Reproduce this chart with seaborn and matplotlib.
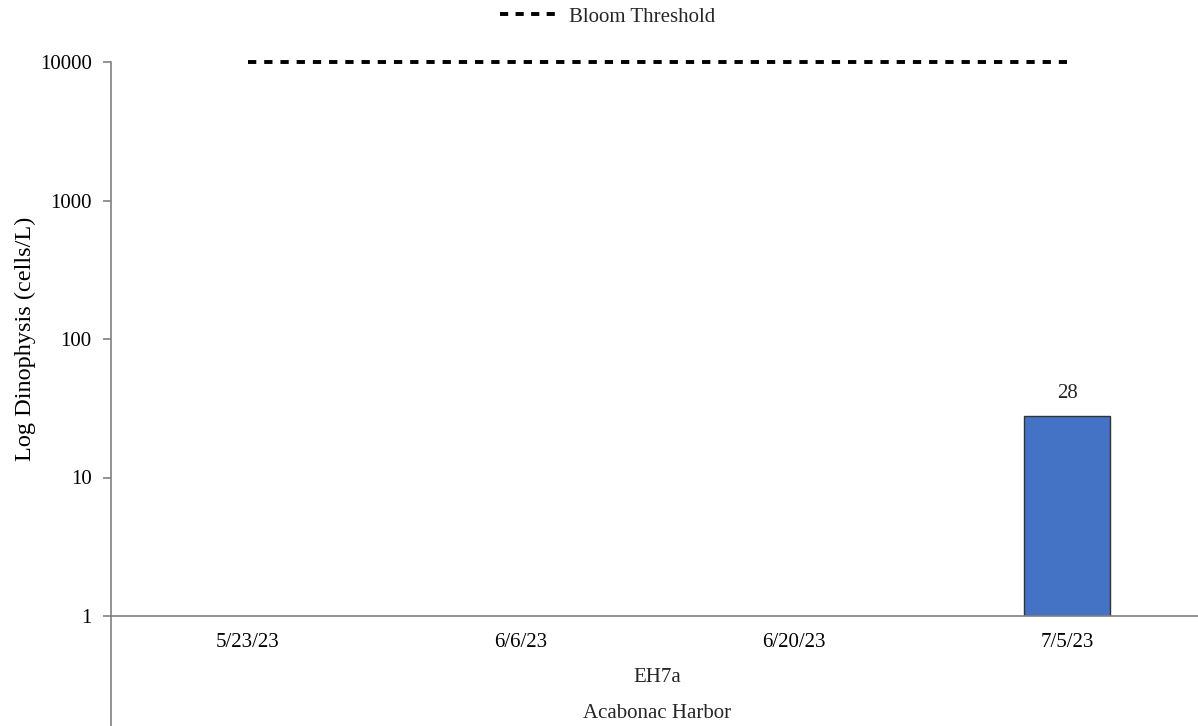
import matplotlib
matplotlib.use("Agg")
import matplotlib.pyplot as plt
import matplotlib.transforms as mtransforms
import seaborn as sns
import pandas as pd
from matplotlib.lines import Line2D

# Sampling dates and Dinophysis counts (cells/L) at station EH7a
dates = ["5/23/23", "6/6/23", "6/20/23", "7/5/23"]
counts = [0, 0, 0, 28]
threshold = [10000, 10000, 10000, 10000]
station = "EH7a"
site = "Acabonac Harbor"

sns.set_theme(style="white")
plt.rcParams["font.family"] = ["Liberation Serif", "DejaVu Serif"]

df = pd.DataFrame({"date": dates, "count": counts, "threshold": threshold})

W, H = 1198, 726
fig = plt.figure(figsize=(W / 100, H / 100), dpi=100)
ax_left, ax_right = 111, 1204
ax = fig.add_axes([ax_left / W, 110 / H, (ax_right - ax_left) / W, 554 / H])

sns.barplot(data=df, x="date", y="count", color="#4472C4", width=0.315,
            edgecolor="#333333", linewidth=1.0, saturation=1, errorbar=None,
            ax=ax)
n_before = len(ax.lines)
sns.lineplot(data=df, x="date", y="threshold", color="black", ax=ax,
             sort=False, errorbar=None)
for ln in ax.lines[n_before:]:
    ln.set_linewidth(2.8)
    ln.set_dashes((2.13, 2.04))
    ln.set_clip_on(False)

ax.set_yscale("log")
ax.set_ylim(1, 10000)
ax.set_xlim(-0.5, 3.5)
ax.set_yticks([1, 10, 100, 1000, 10000])
ax.set_yticklabels(["1", "10", "100", "1000", "10000"])
ax.minorticks_off()

# Value labels on nonzero bars
for patch, v in zip(ax.patches, counts):
    if v > 0:
        ax.annotate(f"{v}", (patch.get_x() + patch.get_width() / 2, v),
                    xytext=(0, 9), textcoords="offset points",
                    ha="center", va="bottom", fontsize=15)

for s in ["top", "right"]:
    ax.spines[s].set_visible(False)
for s in ["left", "bottom"]:
    ax.spines[s].set_color("#808080")
    ax.spines[s].set_linewidth(1.2)

# extend the vertical axis line down to the figure bottom
trans = mtransforms.blended_transform_factory(ax.transData, ax.transAxes)
ax.plot([-0.5, -0.5], [0, -110 / 554], transform=trans,
        color="#808080", linewidth=1.2, clip_on=False)

ax.tick_params(axis="y", which="major", left=True, length=6, width=1.2,
               color="#808080", labelsize=15, pad=8, labelcolor="black")
ax.tick_params(axis="x", bottom=False, labelsize=15, pad=6, labelcolor="black")
ax.set_xlabel("")
ax.set_ylabel("Log Dinophysis (cells/L)", fontsize=17.5, labelpad=3, color="black")

cx = (ax_left + ax_right) / 2 / W
fig.text(cx, 1 - 678 / H, station, ha="center", va="center", fontsize=15)
fig.text(cx, 1 - 714 / H, site, ha="center", va="center", fontsize=15)

handle = Line2D([], [], color="black", linewidth=2.8, dashes=(2.1, 1.9))
fig.legend([handle], ["Bloom Threshold"], loc="center",
           bbox_to_anchor=(608 / W, 1 - 17 / H), frameon=False, fontsize=15,
           handlelength=2.8, handletextpad=0.5)

fig.savefig("out.png", dpi=100)
